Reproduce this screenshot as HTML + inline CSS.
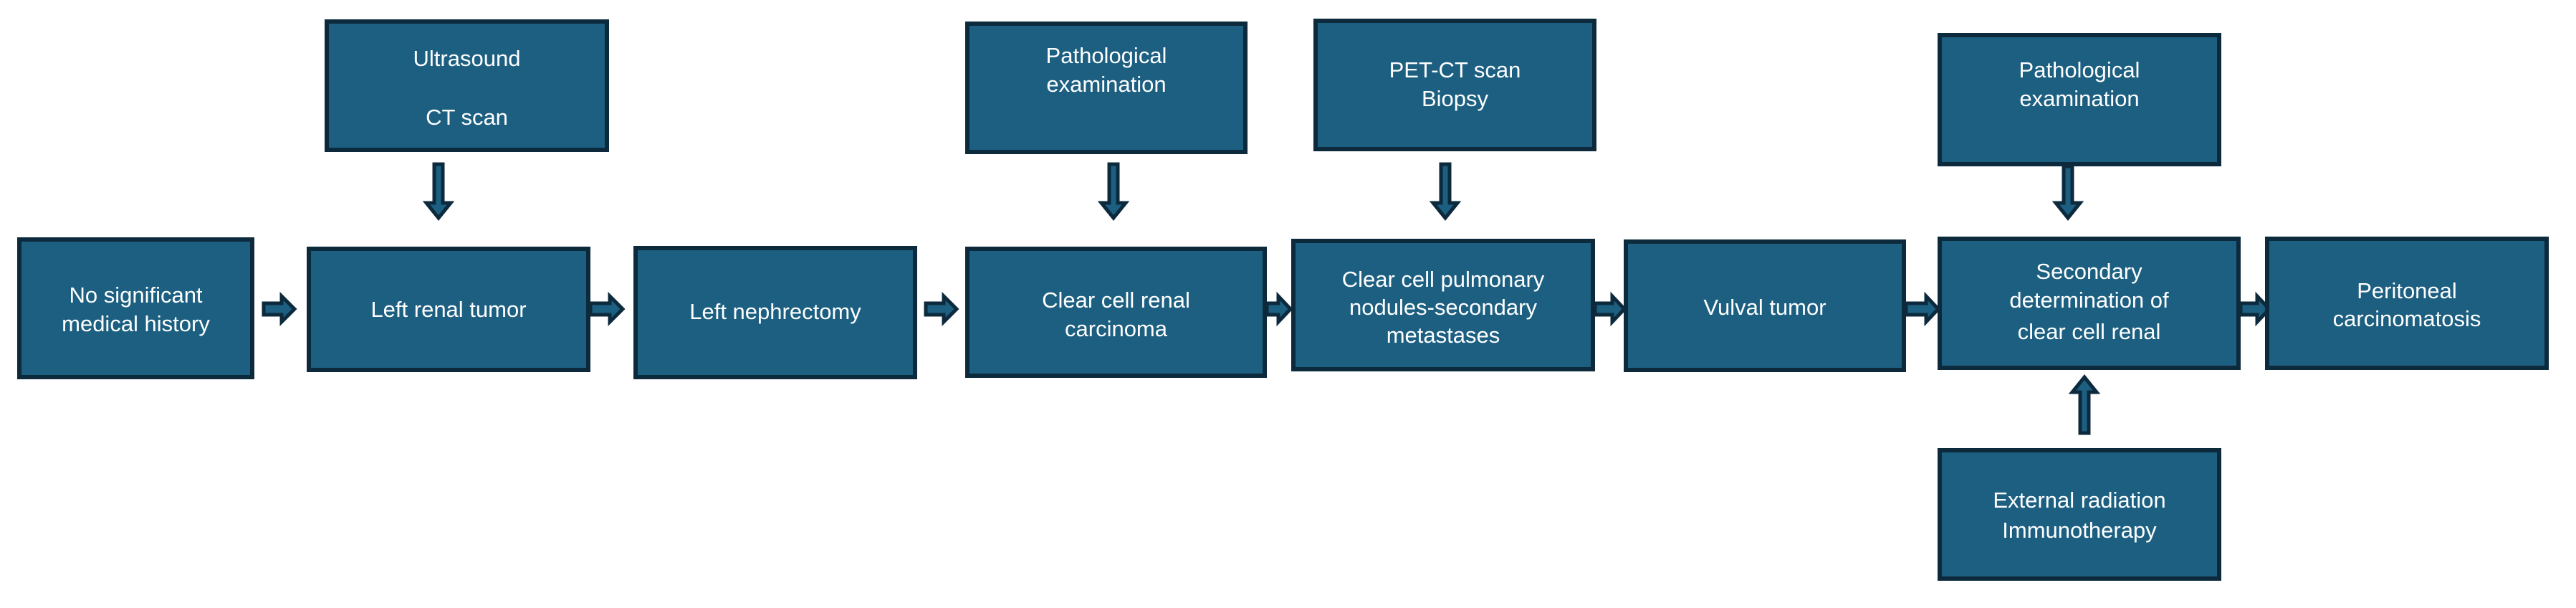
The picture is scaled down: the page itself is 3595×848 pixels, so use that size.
<!DOCTYPE html>
<html><head><meta charset="utf-8"><style>
html,body{margin:0;padding:0;background:#fff;}
#c{position:relative;width:3595px;height:848px;overflow:hidden;font-family:"Liberation Sans",sans-serif;}
.b{position:absolute;box-sizing:border-box;background:#1c5f81;border:6px solid #0d2a3d;}
.t{position:absolute;left:0;width:100%;text-align:center;color:#fff;font-size:31px;line-height:40px;height:40px;white-space:nowrap;}
svg{position:absolute;left:0;top:0;}
</style></head><body><div id="c">
<svg width="3595" height="848">
<g fill="#1c5f81" stroke="#0d2a3d" stroke-width="5" stroke-linejoin="miter">
<!-- right arrows: x1, x2 -->
<path d="M368,423 H393 V413 L411,431 L393,449 V439 H368 Z"/>
<path d="M824,423 H851 V413 L869,431 L851,449 V439 H824 Z"/>
<path d="M1292,423 H1317 V413 L1335,431 L1317,449 V439 H1292 Z"/>
<path d="M1768,423 H1784 V413 L1801,431 L1784,449 V439 H1768 Z"/>
<path d="M2226,423 H2250 V413 L2267,431 L2250,449 V439 H2226 Z"/>
<path d="M2660,423 H2688 V413 L2705,431 L2688,449 V439 H2660 Z"/>
<path d="M3127,423 H3150 V413 L3167,431 L3150,449 V439 H3127 Z"/>
<!-- down arrows -->
<path d="M606,229 H618 V283 H629 L612,304 L595,283 H606 Z"/>
<path d="M1548,229 H1560 V283 H1571 L1554,304 L1537,283 H1548 Z"/>
<path d="M2011,229 H2023 V283 H2034 L2017,304 L2000,283 H2011 Z"/>
<path d="M2880,232 H2892 V283 H2903 L2886,304 L2869,283 H2880 Z"/>
<!-- up arrow -->
<path d="M2903,604 H2915 V547 H2926 L2909,526 L2892,547 H2903 Z"/>
</g>
</svg>

<div class="b" style="left:24px;top:331px;width:331px;height:198px;">
<div class="t" style="top:55px">No significant</div><div class="t" style="top:95px">medical history</div></div>

<div class="b" style="left:453px;top:27px;width:397px;height:185px;">
<div class="t" style="top:29px">Ultrasound</div><div class="t" style="top:111px">CT scan</div></div>

<div class="b" style="left:428px;top:344px;width:396px;height:175px;">
<div class="t" style="top:62px">Left renal tumor</div></div>

<div class="b" style="left:884px;top:343px;width:396px;height:186px;">
<div class="t" style="top:66px">Left nephrectomy</div></div>

<div class="b" style="left:1347px;top:30px;width:394px;height:185px;">
<div class="t" style="top:22px">Pathological</div><div class="t" style="top:62px">examination</div></div>

<div class="b" style="left:1347px;top:344px;width:421px;height:183px;">
<div class="t" style="top:49px">Clear cell renal</div><div class="t" style="top:89px">carcinoma</div></div>

<div class="b" style="left:1833px;top:26px;width:395px;height:185px;">
<div class="t" style="top:46px">PET-CT scan</div><div class="t" style="top:86px">Biopsy</div></div>

<div class="b" style="left:1802px;top:333px;width:424px;height:185px;">
<div class="t" style="top:31px">Clear cell pulmonary</div><div class="t" style="top:70px">nodules-secondary</div><div class="t" style="top:109px">metastases</div></div>

<div class="b" style="left:2266px;top:334px;width:394px;height:185px;">
<div class="t" style="top:69px">Vulval tumor</div></div>

<div class="b" style="left:2704px;top:46px;width:396px;height:186px;">
<div class="t" style="top:26px">Pathological</div><div class="t" style="top:66px">examination</div></div>

<div class="b" style="left:2704px;top:330px;width:423px;height:186px;">
<div class="t" style="top:23px">Secondary</div><div class="t" style="top:63px">determination of</div><div class="t" style="top:107px">clear cell renal</div></div>

<div class="b" style="left:3161px;top:330px;width:396px;height:186px;">
<div class="t" style="top:50px">Peritoneal</div><div class="t" style="top:89px">carcinomatosis</div></div>

<div class="b" style="left:2704px;top:625px;width:396px;height:185px;">
<div class="t" style="top:47px">External radiation</div><div class="t" style="top:89px">Immunotherapy</div></div>
</div></body></html>
